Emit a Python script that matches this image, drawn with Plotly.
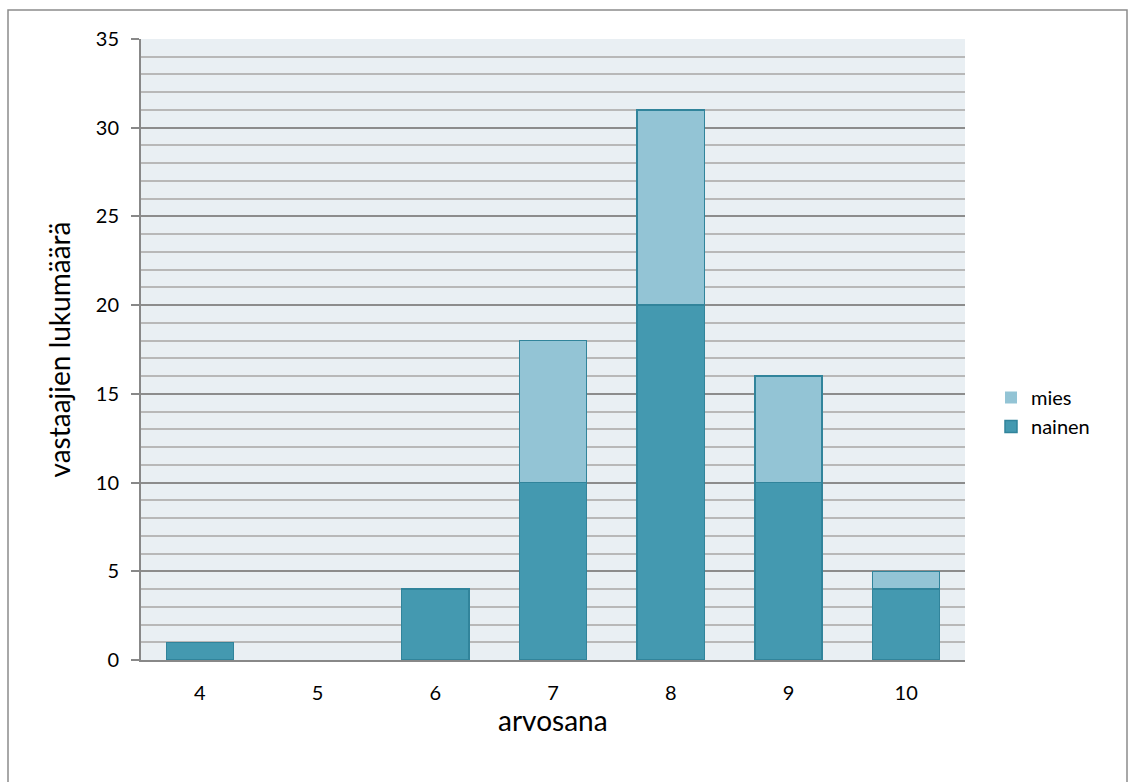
import plotly.graph_objects as go

# Grade distribution of respondents by gender
grades = ["4", "5", "6", "7", "8", "9", "10"]
nainen = [1, 0, 4, 10, 20, 10, 4]
mies = [0, 0, 0, 8, 11, 6, 1]

W, H = 1128, 782
L, R, T, B = 141, 965, 39, 660  # plot area in pixels


def px_x(p):
    return (p - L) / (R - L)


def px_y(p):
    return (B - p) / (B - T)


FONT = "Lato"
EDGE = "#31849B"


def edge_widths(values):
    # no outline on empty segments
    return [1.5 if v else 0 for v in values]


fig = go.Figure()
fig.add_trace(go.Bar(
    name="nainen", x=grades, y=nainen,
    marker=dict(color="#4499B0", line=dict(color=EDGE, width=edge_widths(nainen))),
))
fig.add_trace(go.Bar(
    name="mies", x=grades, y=mies,
    marker=dict(color="#93C4D5", line=dict(color=EDGE, width=edge_widths(mies))),
))

fig.update_layout(
    width=W, height=H,
    barmode="stack",
    bargap=0.43,
    paper_bgcolor="white",
    plot_bgcolor="#E9EFF3",
    margin=dict(l=L, r=W - R, t=T, b=H - B, pad=0),
    font=dict(family=FONT, size=20, color="#000000"),
    showlegend=True,
    legend=dict(
        x=px_x(991), y=px_y(412), xanchor="left", yanchor="middle",
        traceorder="reversed", font=dict(size=20),
        bgcolor="rgba(0,0,0,0)",
    ),
    xaxis=dict(
        type="category",
        showgrid=False,
        showline=True, linecolor="#888888", linewidth=2,
        ticks="", ticklabelstandoff=14,
    ),
    yaxis=dict(
        range=[0, 35],
        dtick=5,
        showgrid=True, gridcolor="#8C8C8C", gridwidth=1.5,
        minor=dict(dtick=1, showgrid=True, gridcolor="#B8B8B8", gridwidth=1.5, ticks=""),
        showline=True, linecolor="#888888", linewidth=2,
        ticks="outside", ticklen=8, tickcolor="#888888", tickwidth=2,
        ticklabelstandoff=8,
        zeroline=False,
        title=dict(text="vastaajien lukumäärä", font=dict(size=28), standoff=17),
    ),
    annotations=[
        dict(
            text="arvosana", xref="paper", yref="paper",
            x=0.5, y=px_y(720), xanchor="center", yanchor="middle",
            showarrow=False, font=dict(size=28),
        ),
    ],
    shapes=[
        dict(
            type="rect", xref="paper", yref="paper",
            x0=px_x(8), x1=px_x(1127), y0=px_y(800), y1=px_y(10),
            line=dict(color="#8C8C8C", width=1.5), fillcolor="rgba(0,0,0,0)",
            layer="below",
        ),
    ],
)

fig.write_html("out.html")
